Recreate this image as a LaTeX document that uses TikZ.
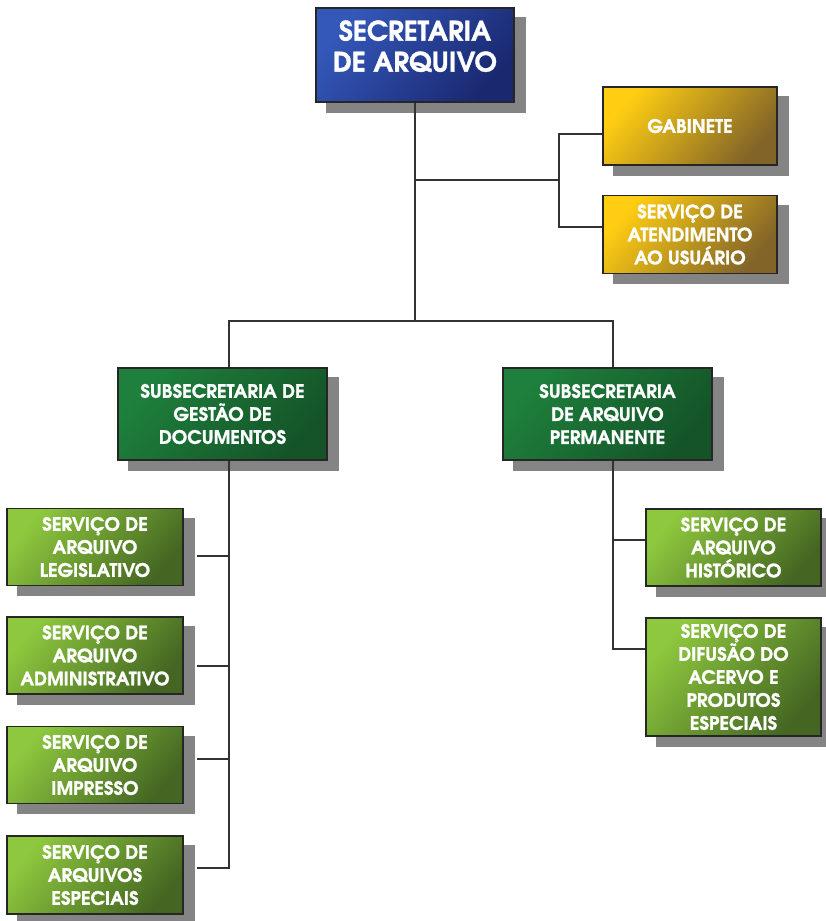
\documentclass[tikz,border=0pt]{standalone}
\usepackage{fontspec}
\newfontfamily\gothic{texgyreadventor-bold}[Extension=.otf, FakeBold=1.2]
\pgfdeclarelayer{shad}
\pgfdeclarelayer{lines}
\pgfsetlayers{shad,lines,main}
\definecolor{shadowgray}{RGB}{132,132,132}
\definecolor{linegray}{RGB}{50,50,50}
\definecolor{blueA}{RGB}{52,88,186}
\definecolor{blueB}{RGB}{26,40,112}
\definecolor{goldA}{RGB}{255,206,18}
\definecolor{goldB}{RGB}{130,100,40}
\definecolor{dgreenA}{RGB}{30,128,60}
\definecolor{dgreenB}{RGB}{20,84,40}
\definecolor{lgreenA}{RGB}{142,200,62}
\definecolor{lgreenB}{RGB}{68,102,34}
\begin{document}
\begin{tikzpicture}[x=1pt,y=-1pt,
  box/.style={draw=black!85, line width=1.2pt, text=white, align=center,
    inner sep=0pt,
    font=\gothic\fontsize{18.5}{23}\selectfont},
  topbox/.style={box, top color=blueA, bottom color=blueB, shading angle=50,
    font=\gothic\fontsize{27}{31}\selectfont},
  goldbox/.style={box, top color=goldA, bottom color=goldB, shading angle=50},
  subbox/.style={box, top color=dgreenA, bottom color=dgreenB, shading angle=50},
  servbox/.style={box, top color=lgreenA, bottom color=lgreenB, shading angle=50},
  conn/.style={draw=linegray, line width=1.4pt}
]
\begin{pgfonlayer}{shad}
\fill[white] (0,0) rectangle (825,921);
\end{pgfonlayer}
\useasboundingbox (0,0) rectangle (825,921);

\node[topbox, minimum width=198pt, minimum height=94pt] (top) at (415,55) {SECRETARIA\\DE ARQUIVO\\[-13pt]\mbox{}};
\node[goldbox, minimum width=174pt, minimum height=78pt] (gab) at (690,126) {GABINETE};
\node[goldbox, minimum width=174pt, minimum height=78pt] (aten) at (690,234.5) {SERVIÇO DE\\ATENDIMENTO\\AO USUÁRIO};
\node[subbox, minimum width=209pt, minimum height=92pt] (subG) at (222.5,414) {SUBSECRETARIA DE\\GESTÃO DE\\DOCUMENTOS};
\node[subbox, minimum width=209pt, minimum height=92pt] (subP) at (607.5,414) {SUBSECRETARIA\\DE ARQUIVO\\PERMANENTE};
\node[servbox, minimum width=176pt, minimum height=77pt] (leg) at (95,547) {SERVIÇO DE\\ARQUIVO\\LEGISLATIVO};
\node[servbox, minimum width=176pt, minimum height=77pt] (adm) at (95,655.5) {SERVIÇO DE\\ARQUIVO\\ADMINISTRATIVO};
\node[servbox, minimum width=176pt, minimum height=77pt] (imp) at (95,765) {SERVIÇO DE\\ARQUIVO\\IMPRESSO};
\node[servbox, minimum width=176pt, minimum height=78pt] (esp) at (95,875) {SERVIÇO DE\\ARQUIVOS\\ESPECIAIS};
\node[servbox, minimum width=175pt, minimum height=77pt] (hist) at (733.5,547.5) {SERVIÇO DE\\ARQUIVO\\HISTÓRICO};
\node[servbox, minimum width=175pt, minimum height=118pt] (dif) at (733.5,677) {SERVIÇO DE\\DIFUSÃO DO\\ACERVO E\\PRODUTOS\\ESPECIAIS};

\begin{pgfonlayer}{shad}
  \foreach \n in {top,gab,aten,subG,subP,leg,adm,imp,esp,hist,dif}
    \fill[shadowgray] ([xshift=11pt,yshift=-10pt]\n.south west) rectangle ([xshift=11pt,yshift=-10pt]\n.north east);
\end{pgfonlayer}

\coordinate (hub) at (415,321);
\coordinate (gj) at (415,180);
\coordinate (gbus) at (559,180);
\coordinate (lbus) at (229,321);
\coordinate (rbus) at (613,321);
\coordinate (l1) at (229,556);
\coordinate (l2) at (229,666);
\coordinate (l3) at (229,759);
\coordinate (l4) at (229,868);
\coordinate (r1) at (613,540);
\coordinate (r2) at (613,649);

\begin{pgfonlayer}{lines}
  \draw[conn] (top.south) -- (hub);
  \draw[conn] (gj) -- (gbus);
  \draw[conn] ([yshift=-8pt]gab.west) -| (gbus) |- ([yshift=7.5pt]aten.west);
  \draw[conn] (lbus |- subG.north) -- (lbus) -- (rbus) -- (rbus |- subP.north);
  \draw[conn] (lbus |- subG.south) -- (l4) -- ([xshift=13pt]esp.east |- l4);
  \draw[conn] (l1) -- ([xshift=13pt]leg.east |- l1);
  \draw[conn] (l2) -- ([xshift=13pt]adm.east |- l2);
  \draw[conn] (l3) -- ([xshift=13pt]imp.east |- l3);
  \draw[conn] (rbus |- subP.south) -- (r2) -- (r2 -| dif.west);
  \draw[conn] (r1) -- (r1 -| hist.west);
\end{pgfonlayer}
\end{tikzpicture}
\end{document}
